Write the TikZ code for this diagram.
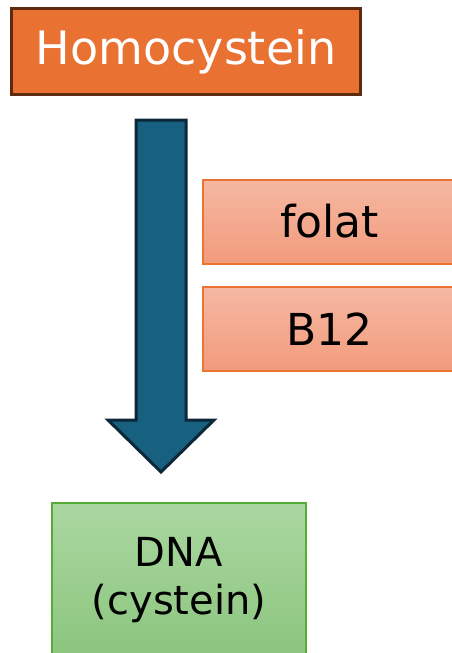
\documentclass[tikz,border=0pt]{standalone}
\usepackage{fontspec}
\setmainfont{DejaVu Sans}
\usetikzlibrary{calc}
\definecolor{hcfill}{HTML}{E97132}
\definecolor{hcdraw}{HTML}{5E2A10}
\definecolor{arfill}{HTML}{17607F}
\definecolor{ardraw}{HTML}{0C2838}
\definecolor{vtop}{HTML}{F5B8A2}
\definecolor{vbot}{HTML}{F29B7C}
\definecolor{vdraw}{HTML}{EC7433}
\definecolor{gtop}{HTML}{AAD7A0}
\definecolor{gbot}{HTML}{8CC57E}
\definecolor{gdraw}{HTML}{56AC36}
\begin{document}
\begin{tikzpicture}[x=1pt,y=-1pt,
  box/.style={draw, rectangle, inner sep=0pt, align=center},
  vitbox/.style={box, line width=2pt, draw=vdraw, top color=vtop, bottom color=vbot,
    minimum width=253pt, minimum height=84pt, font=\fontsize{44}{52}\selectfont},
  ]
\useasboundingbox (0,0) rectangle (452,653);
\node[box, line width=3pt, draw=hcdraw, fill=hcfill, text=white,
  minimum width=349pt, minimum height=86pt, font=\fontsize{46}{55}\selectfont]
  (hc) at (186,51.5) {Homocystein};
\node[vitbox] (folat) at (329.5,221.5) {folat};
\node[vitbox] (b12) at (329.5,329) {B12};
\node[box, line width=2pt, draw=gdraw, top color=gtop, bottom color=gbot,
  minimum width=254pt, minimum height=154pt, font=\fontsize{40}{48}\selectfont]
  (dna) at (179,580) {DNA\\(cystein)};
\coordinate (atop) at (161,120);
\coordinate (atip) at (161,472);
\draw[line width=3pt, draw=ardraw, fill=arfill, line join=miter]
  ($(atop)+(-25,0)$) -- ($(atop)+(25,0)$) -- ($(atip)+(25,-52)$) -- ($(atip)+(53,-52)$)
  -- (atip) -- ($(atip)+(-53,-52)$) -- ($(atip)+(-25,-52)$) -- cycle;
\end{tikzpicture}
\end{document}
